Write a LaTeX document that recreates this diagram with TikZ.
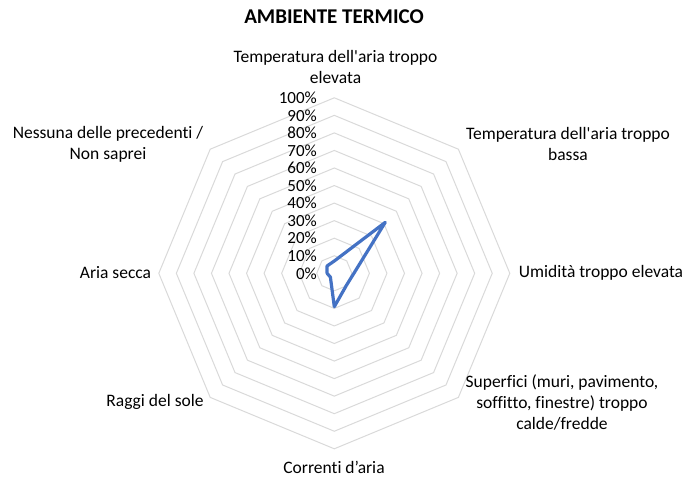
\documentclass[tikz,border=0pt]{standalone}
\usepackage{fontspec}
\setmainfont{Carlito}[Ligatures={NoCommon,TeXOff}]
\usepackage{xcolor}
\usepackage{tikz}

\definecolor{gridgray}{HTML}{D9D9D9}
\definecolor{seriesblue}{HTML}{4472C4}

\begin{document}
\begin{tikzpicture}[x=1pt,y=-1pt,
    lbl/.style={align=center,inner sep=0pt,font=\fontsize{17.5}{21}\selectfont},
    pct/.style={anchor=east,inner sep=0pt,font=\fontsize{17}{18}\selectfont},
    ring/.style={draw=gridgray,line width=1pt},
    series/.style={draw=seriesblue,line width=3.2pt,line join=round}]
    \useasboundingbox (0,0) rectangle (689,479);

    \node[font=\fontsize{21}{23}\selectfont\bfseries,inner sep=0pt](title) at (334,17) {AMBIENTE TERMICO};

    \begin{scope}[shift = {(334.3,273.3)},y=1pt]
    \foreach \i in {1,...,10}{
      \pgfmathsetmacro{\r}{17.55*\i}
      \draw[ring] (90:\r) -- (45:\r) -- (0:\r) -- (-45:\r) -- (-90:\r) -- (-135:\r) -- (180:\r) -- (135:\r) -- cycle;
    }
    \draw[series] (90:12.3) -- (45:72) -- (0:19.6) -- (-45:17.1) -- (-90:33.4) -- (-135:5.5) -- (180:7.2) -- (135:10.3) -- cycle;
    \end{scope}

    \foreach \v in {0,10,...,100}{
      \node[pct](p\v) at (317,273.3-1.755*\v) {\v\%};
    }

    \node[lbl](tempHigh) at (335.5,66.5) {Temperatura dell'aria troppo\\elevata};
    \node[lbl](tempLow) at (568,144) {Temperatura dell'aria troppo\\bassa};
    \node[lbl](humidity) at (601,272.5) {Umidità troppo elevata};
    \node[lbl](surfaces) at (562,402) {Superfici (muri, pavimento,\\soffitto, finestre) troppo\\calde/fredde};
    \node[lbl](drafts) at (334,467) {Correnti d’aria};
    \node[lbl](sunRays) at (155,402) {Raggi del sole};
    \node[lbl](dryAir) at (115.5,272.5) {Aria secca};
    \node[lbl](noneOf) at (108,144.5) {Nessuna delle precedenti /\\Non saprei};
\end{tikzpicture}
\end{document}
